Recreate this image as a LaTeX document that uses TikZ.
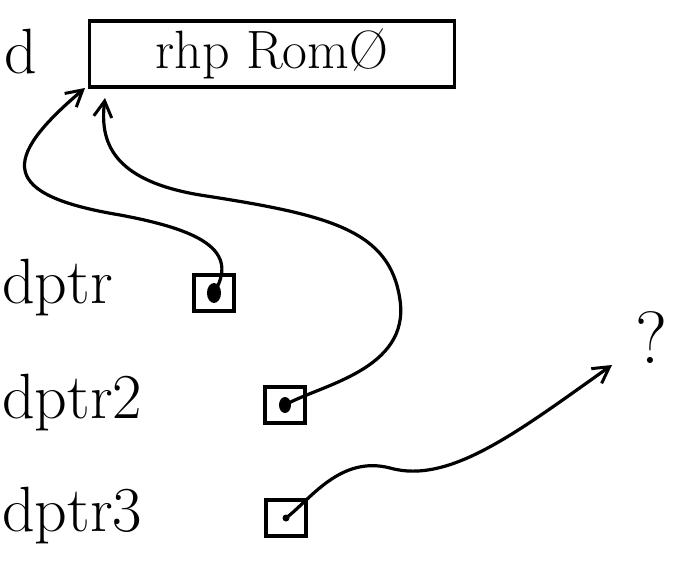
\documentclass[tikz,border=0pt]{standalone}
\usetikzlibrary{arrows.meta}
\begin{document}
\begin{tikzpicture}[x=1pt,y=-1pt,
  ink/.style={line width=3.2pt,line cap=round,line join=round},
  lbl/.style={font=\fontsize{64}{66}\selectfont,inner sep=0pt,anchor=west},
  cell/.style={draw,line width=3.4pt,minimum width=40pt,minimum height=36pt,inner sep=0pt},
  link/.style={ink,-{Straight Barb[length=16pt,width=18pt,line width=3pt]}}]
\useasboundingbox (0,0) rectangle (678,572);
% top variable d
\node[lbl] (d) at (4,52) {d};
\node[draw,line width=3.4pt,minimum width=365pt,minimum height=66pt,inner sep=0pt,
      font=\fontsize{54}{56}\selectfont] (dbox) at (272,54) {rhp Rom\O};
% dptr
\node[lbl] (p1) at (2,288) {dptr};
\node[cell] (b1) at (214,293) {};
\fill (b1.center) ellipse (7pt and 10pt);
% dptr2
\node[lbl] (p2) at (2,403) {dptr2};
\node[cell] (b2) at (285,405) {};
\fill (b2.center) ellipse (6pt and 8pt);
% dptr3
\node[lbl] (p3) at (2,516) {dptr3};
\node[cell] (b3) at (286,518) {};
\fill (b3.center) circle (3.5pt);
% question mark
\node[font=\fontsize{74}{76}\selectfont,inner sep=0pt] (q) at (652,338) {?};
% arrows
\coordinate (t1) at (85,88);
\coordinate (t2) at (105,98);
\coordinate (t3) at (612,365);
\draw[link] (b1.center) .. controls (240,250) and (200,230) .. (120,215)
  .. controls (0,195) and (0,160) .. (t1);
\draw[link] (b2.center) .. controls (320,385) and (410,370) .. (400,300)
  .. controls (390,230) and (330,215) .. (200,195)
  .. controls (110,180) and (100,140) .. (t2);
\draw[link] (b3.center) .. controls (310,500) and (340,455) .. (390,468)
  .. controls (450,485) and (520,430) .. (t3);
\end{tikzpicture}
\end{document}
